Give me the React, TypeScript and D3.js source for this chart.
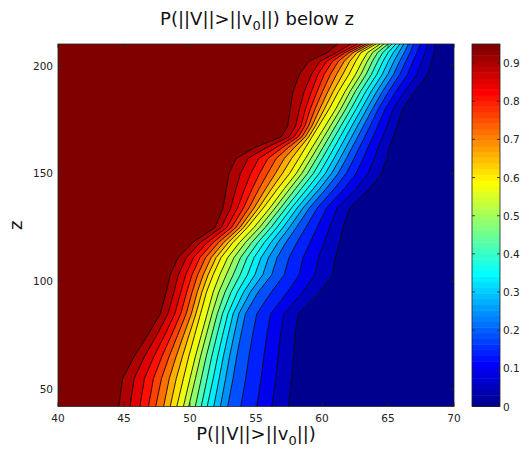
import React from "react";
import * as d3 from "d3";

// z rows where the contour crossings were read
const zRows = [42, 55, 65, 75, 85, 95, 103, 111, 118, 125, 134, 143, 150, 157, 162, 167, 172, 180, 188, 196, 202, 206, 210];

// x position of each of the 20 contour lines on that row, left (highest level) to right (lowest)
const contourX = [
  [44.6, 45.45, 46.2, 46.85, 47.4, 48.0, 48.5, 49.0, 49.5, 49.9, 50.4, 50.85, 51.3, 51.8, 52.3, 52.85, 53.85, 55.05, 56.2, 57.45],
  [44.9, 45.77, 46.55, 47.23, 47.84, 48.43, 48.96, 49.5, 50.0, 50.41, 50.86, 51.3, 51.76, 52.21, 52.7, 53.26, 54.22, 55.39, 56.51, 57.7],
  [45.75, 46.54, 47.25, 47.86, 48.41, 48.94, 49.42, 49.9, 50.4, 50.79, 51.22, 51.64, 52.09, 52.52, 52.99, 53.53, 54.46, 55.59, 56.67, 57.85],
  [46.8, 47.47, 48.07, 48.59, 49.06, 49.51, 49.92, 50.35, 50.85, 51.23, 51.64, 52.04, 52.47, 52.88, 53.33, 53.85, 54.74, 55.82, 56.85, 57.95],
  [47.75, 48.33, 48.85, 49.3, 49.71, 50.1, 50.45, 50.8, 51.3, 51.67, 52.07, 52.46, 52.87, 53.27, 53.7, 54.2, 55.06, 56.11, 57.11, 58.2],
  [48.2, 48.78, 49.3, 49.75, 50.16, 50.55, 50.9, 51.25, 51.75, 52.18, 52.65, 53.11, 53.59, 54.06, 54.57, 55.16, 56.16, 57.38, 58.55, 59.8],
  [48.5, 49.12, 49.67, 50.15, 50.58, 51.0, 51.37, 51.75, 52.25, 52.75, 53.27, 53.8, 54.35, 54.91, 55.51, 56.19, 57.14, 58.26, 59.46, 60.8],
  [49.1, 49.72, 50.27, 50.75, 51.18, 51.6, 51.97, 52.35, 52.85, 53.33, 53.83, 54.33, 54.85, 55.38, 55.95, 56.6, 57.5, 58.57, 59.72, 61.0],
  [50.2, 50.78, 51.3, 51.75, 52.16, 52.55, 52.9, 53.25, 53.75, 54.2, 54.67, 55.14, 55.63, 56.13, 56.66, 57.26, 58.1, 59.1, 60.17, 61.35],
  [51.9, 52.37, 52.79, 53.15, 53.48, 53.79, 54.07, 54.35, 54.85, 55.27, 55.7, 56.14, 56.59, 57.05, 57.53, 58.06, 58.78, 59.64, 60.57, 61.6],
  [52.5, 53.08, 53.6, 54.05, 54.46, 54.85, 55.2, 55.55, 56.05, 56.45, 56.86, 57.27, 57.69, 58.12, 58.56, 59.04, 59.64, 60.34, 61.15, 62.1],
  [52.75, 53.49, 54.15, 54.72, 55.24, 55.74, 56.19, 56.65, 57.15, 57.57, 58.0, 58.44, 58.89, 59.35, 59.82, 60.32, 60.94, 61.69, 62.57, 63.6],
  [52.95, 53.82, 54.6, 55.27, 55.88, 56.47, 57.0, 57.55, 58.05, 58.47, 58.9, 59.34, 59.79, 60.25, 60.72, 61.22, 61.84, 62.59, 63.47, 64.5],
  [53.5, 54.4, 55.21, 55.91, 56.54, 57.15, 57.7, 58.25, 58.75, 59.17, 59.59, 60.02, 60.46, 60.91, 61.37, 61.85, 62.43, 63.13, 63.96, 64.9],
  [54.9, 55.8, 56.5, 57.0, 57.45, 57.9, 58.33, 58.75, 59.25, 59.66, 60.07, 60.49, 60.92, 61.36, 61.81, 62.28, 62.83, 63.48, 64.25, 65.1],
  [56.9, 57.5, 57.9, 58.2, 58.48, 58.74, 59.0, 59.25, 59.75, 60.15, 60.55, 60.96, 61.38, 61.81, 62.25, 62.71, 63.24, 63.86, 64.59, 65.4],
  [57.4, 58.0, 58.4, 58.7, 58.98, 59.24, 59.5, 59.75, 60.25, 60.64, 61.03, 61.43, 61.84, 62.26, 62.69, 63.14, 63.64, 64.23, 64.93, 65.7],
  [57.6, 58.3, 58.75, 59.12, 59.48, 59.84, 60.19, 60.55, 61.05, 61.43, 61.81, 62.2, 62.6, 63.0, 63.41, 63.83, 64.28, 64.8, 65.4, 66.1],
  [57.8, 58.65, 59.2, 59.63, 60.04, 60.45, 60.85, 61.25, 61.75, 62.13, 62.52, 62.92, 63.32, 63.73, 64.15, 64.58, 65.05, 65.6, 66.25, 67.0],
  [58.3, 59.2, 59.7, 60.17, 60.64, 61.11, 61.58, 62.05, 62.55, 62.95, 63.35, 63.75, 64.16, 64.57, 64.99, 65.43, 65.91, 66.49, 67.19, 68.0],
  [59.0, 59.85, 60.35, 60.8, 61.24, 61.68, 62.11, 62.55, 63.05, 63.43, 63.82, 64.22, 64.62, 65.03, 65.45, 65.88, 66.35, 66.9, 67.55, 68.3],
  [60.4, 61.1, 61.45, 61.75, 62.05, 62.35, 62.65, 62.95, 63.45, 63.83, 64.21, 64.6, 65.0, 65.4, 65.81, 66.23, 66.68, 67.2, 67.8, 68.5],
  [61.2, 62.2, 62.7, 63.05, 63.35, 63.6, 63.85, 64.1, 64.4, 64.7, 65.0, 65.3, 65.6, 65.9, 66.2, 66.55, 66.95, 67.45, 68.0, 68.6],
];

const xTicks = [40, 45, 50, 55, 60, 65, 70];
const zTicks = [50, 100, 150, 200];
const cbTicks = [0, 0.1, 0.2, 0.3, 0.4, 0.5, 0.6, 0.7, 0.8, 0.9];
const cbMax = 0.95;

// matlab jet(64)
function jet(t: number) {
  const i = Math.max(0, Math.min(63, Math.floor(t * 64)));
  let r = 0, g = 0, b = 0;
  if (i < 8) b = (i + 9) / 16;
  else if (i < 24) { b = 1; g = (i - 7) / 16; }
  else if (i < 40) { g = 1; r = (i - 23) / 16; b = 1 - (i - 23) / 16; }
  else if (i < 56) { r = 1; g = 1 - (i - 39) / 16; }
  else r = 1 - (i - 55) / 16;
  return d3.rgb(r * 255, g * 255, b * 255).formatHex();
}

const font = "'DejaVu Sans', sans-serif";

export default function App() {
  const W = 523, H = 449;
  const m = { left: 58, right: 454, top: 44, bottom: 406.5 };
  const x = d3.scaleLinear().domain([40, 70]).range([m.left, m.right]);
  const y = d3.scaleLinear().domain([42, 210]).range([m.bottom, m.top]);
  const nLines = contourX[0].length;

  // 21 regions: j = 0 right of the lowest line ... j = 20 left of the highest line
  const regions = d3.range(nLines + 1).map((j) => {
    const leftIdx = nLines - 1 - j; // line to the left
    const rightIdx = nLines - j; // line to the right
    const area = d3
      .area<number>()
      .y((_, r) => y(zRows[r]))
      .x0((_, r) => (leftIdx >= 0 ? x(contourX[r][leftIdx]) : x(40)))
      .x1((_, r) => (rightIdx < nLines ? x(contourX[r][rightIdx]) : x(70)));
    return { d: area(zRows) as string, fill: jet(j / nLines) };
  });

  const lines = d3.range(nLines).map((k) =>
    d3
      .line<number>()
      .x((_, r) => x(contourX[r][k]))
      .y((_, r) => y(zRows[r]))(zRows) as string
  );

  const cb = { left: 472, right: 500 };
  const cy = d3.scaleLinear().domain([0, cbMax]).range([m.bottom, m.top]);
  const cbSteps = d3.range(64);
  const tk = 4;
  const axisCol = "#222";

  return (
    <svg width={W} height={H} style={{ position: "absolute", left: 0, top: 0, background: "#fff" }}>
      <defs>
        <clipPath id="plotClip">
          <rect x={m.left} y={m.top} width={m.right - m.left} height={m.bottom - m.top} />
        </clipPath>
      </defs>
      <g clipPath="url(#plotClip)">
        {regions.map((r, i) => (
          <path key={i} d={r.d} fill={r.fill} stroke={r.fill} strokeWidth={0.4} />
        ))}
        {lines.map((d, i) => (
          <path key={i} d={d} fill="none" stroke="#000" strokeWidth={0.85} />
        ))}
      </g>
      <rect x={m.left} y={m.top} width={m.right - m.left} height={m.bottom - m.top} fill="none" stroke={axisCol} strokeWidth={0.8} />
      {xTicks.map((t) => (
        <g key={t}>
          <line x1={x(t)} x2={x(t)} y1={m.bottom} y2={m.bottom - tk} stroke={axisCol} strokeWidth={0.8} />
          <line x1={x(t)} x2={x(t)} y1={m.top} y2={m.top + tk} stroke={axisCol} strokeWidth={0.8} />
          <text x={x(t)} y={421.5} textAnchor="middle" fontFamily={font} fontSize={10.5} fill={axisCol}>{t}</text>
        </g>
      ))}
      {zTicks.map((t) => (
        <g key={t}>
          <line x1={m.left} x2={m.left + tk} y1={y(t)} y2={y(t)} stroke={axisCol} strokeWidth={0.8} />
          <line x1={m.right} x2={m.right - tk} y1={y(t)} y2={y(t)} stroke={axisCol} strokeWidth={0.8} />
          <text x={53} y={y(t) + 4} textAnchor="end" fontFamily={font} fontSize={10.5} fill={axisCol}>{t}</text>
        </g>
      ))}
      {cbSteps.map((i) => (
        <rect key={i} x={cb.left} width={cb.right - cb.left} y={cy(((i + 1) / 64) * cbMax)} height={cy((i / 64) * cbMax) - cy(((i + 1) / 64) * cbMax) + 0.5} fill={jet((i + 0.5) / 64)} />
      ))}
      <rect x={cb.left} y={m.top} width={cb.right - cb.left} height={m.bottom - m.top} fill="none" stroke={axisCol} strokeWidth={0.8} />
      {cbTicks.map((t) => (
        <g key={t}>
          <line x1={cb.left} x2={cb.left + 3} y1={cy(t)} y2={cy(t)} stroke={axisCol} strokeWidth={0.8} />
          <line x1={cb.right} x2={cb.right - 3} y1={cy(t)} y2={cy(t)} stroke={axisCol} strokeWidth={0.8} />
          <text x={503} y={cy(t) + 4} fontFamily={font} fontSize={10.5} fill={axisCol}>{t}</text>
        </g>
      ))}
      <text x={257} y={25} textAnchor="middle" fontFamily={font} fontSize={18} fill="#111">
        P(||V||&gt;||v<tspan dy={5} fontSize={13}>0</tspan><tspan dy={-5}>||) below z</tspan>
      </text>
      <text x={256} y={439.5} textAnchor="middle" fontFamily={font} fontSize={18} fill="#111">
        P(||V||&gt;||v<tspan dy={5} fontSize={13}>0</tspan><tspan dy={-5}>||)</tspan>
      </text>
      <text transform={`translate(22, ${(m.top + m.bottom) / 2}) rotate(-90)`} textAnchor="middle" fontFamily={font} fontSize={18} fill="#111">z</text>
    </svg>
  );
}
